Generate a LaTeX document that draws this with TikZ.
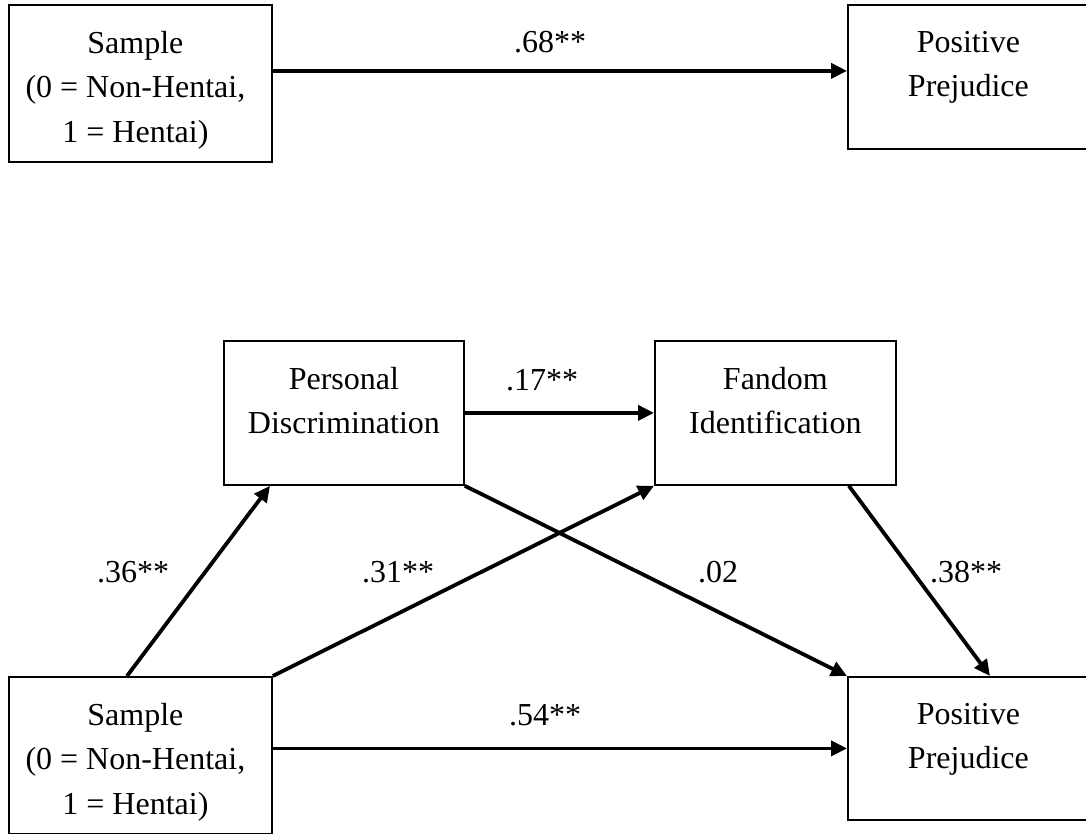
\documentclass[tikz,border=0pt]{standalone}
\usepackage{fontspec}
\setmainfont{Liberation Serif}
\usetikzlibrary{arrows.meta,positioning}
\begin{document}
\begin{tikzpicture}[x=1pt,y=-1pt,font=\fontsize{32}{44.5}\selectfont]
        \tikzstyle{box}=[rectangle,draw=black,line width=1.8pt,anchor=north west,inner sep=0pt]
        \tikzstyle{boxtext}=[anchor=north,align=center,inner sep=0pt]
        \tikzstyle{coef}=[anchor=base,inner sep=0pt]
        \tikzstyle{edge}=[draw,line width=3.8pt,-{Triangle[length=16pt,width=15pt]}]
        \useasboundingbox (0,0) rectangle (1086,834);
       % total effect
       \begin{scope}
         \node [box,minimum width=263pt,minimum height=157pt] (sample1) at (8,4) {};
         \node [box,minimum width=241pt,minimum height=144pt] (prej1) at (847,4) {};
         \node [boxtext,below=27pt of sample1.north,xshift=-5pt] (sample1t) {Sample\\(0 = Non-Hentai,\\1 = Hentai)};
         \node [boxtext,below=27pt of prej1.north] (prej1t) {Positive\\Prejudice};
         \coordinate (in1) at ([yshift=6pt]prej1.west);
         \path (sample1.east |- in1) edge [edge] (in1);
         \node [coef] (c68) at (550,53) {.68**};
        \end{scope}
       % mediation model
       \begin{scope}
         \node [box,minimum width=240pt,minimum height=144pt] (pers) at (223,340) {};
         \node [box,minimum width=241pt,minimum height=144pt] (fand) at (654,340) {};
         \node [box,minimum width=263pt,minimum height=157pt] (sample2) at (8,676) {};
         \node [box,minimum width=241pt,minimum height=143pt] (prej2) at (847,676) {};
         \node [boxtext,below=27pt of pers.north] (perst) {Personal\\Discrimination};
         \node [boxtext,below=27pt of fand.north] (fandt) {Fandom\\Identification};
         \node [boxtext,below=27pt of sample2.north,xshift=-5pt] (sample2t) {Sample\\(0 = Non-Hentai,\\1 = Hentai)};
         \node [boxtext,below=27pt of prej2.north] (prej2t) {Positive\\Prejudice};
         \path (pers.east) edge [edge] (fand.west);
         \path (sample2.east |- prej2.west) edge [edge] (prej2.west);
         \path ([xshift=119pt]sample2.north west) edge [edge] ([xshift=47pt]pers.south west);
         \path (sample2.north east) edge [edge] (fand.south west);
         \path (pers.south east) edge [edge] (prej2.north west);
         \path ([xshift=-48pt]fand.south east) edge [edge] ([xshift=143pt]prej2.north west);
         \node [coef] (c17) at (542,390) {.17**};
         \node [coef] (c36) at (133,582) {.36**};
         \node [coef] (c31) at (398,582) {.31**};
         \node [coef] (c02) at (718,582) {.02};
         \node [coef] (c38) at (966,582) {.38**};
         \node [coef] (c54) at (545,725) {.54**};
        \end{scope}
      \end{tikzpicture}
\end{document}
